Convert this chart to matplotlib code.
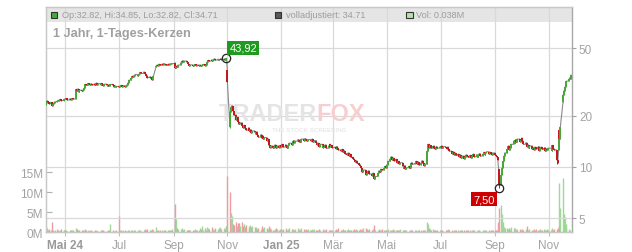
import numpy as np
import pandas as pd
import matplotlib
matplotlib.use("Agg")
import matplotlib.pyplot as plt
import matplotlib.dates as mdates
from matplotlib.patches import Rectangle

plt.rcParams['font.family'] = ['Liberation Sans', 'DejaVu Sans']

# ---------------- data (daily closes / volumes in M, per month) ----------------
c_2024_04 = [23.8, 24.5, 24.0, 23.6, 24.0, 23.0, 23.5, 23.9, 24.2, 24.6, 24.3, 24.8, 25.0, 24.6, 24.9, 25.1]
v_2024_04 = [1.7, 1.0, 0.6, 0.8, 0.5, 2.7, 0.7, 0.4, 0.6, 0.8, 0.5, 0.4, 0.7, 0.9, 0.5, 0.6]
c_2024_05 = [25.0, 25.3, 24.8, 25.2, 25.0, 24.9, 25.3, 25.1, 28.6, 28.0, 28.8, 27.6, 28.3, 27.9, 28.4, 29.0, 30.6, 30.2, 31.0, 30.6, 30.3, 30.9, 30.5]
v_2024_05 = [0.5, 0.6, 0.4, 0.7, 0.5, 0.4, 0.6, 0.5, 1.2, 0.8, 0.6, 0.5, 0.4, 0.6, 0.5, 0.7, 0.9, 0.6, 0.5, 0.4, 0.6, 0.5, 0.4]
c_2024_06 = [30.8, 30.2, 31.2, 30.5, 30.9, 30.4, 31.0, 30.6, 30.1, 30.7, 30.3, 29.8, 30.4, 30.0, 30.6, 30.2, 29.6, 30.0, 29.5, 29.8]
v_2024_06 = [0.4, 0.5, 0.6, 0.4, 0.3, 0.5, 0.4, 0.6, 0.5, 0.4, 0.3, 0.5, 0.4, 0.6, 2.0, 0.5, 0.4, 0.3, 0.5, 0.4]
c_2024_07 = [29.4, 29.9, 30.2, 29.7, 30.1, 29.6, 30.0, 30.4, 31.2, 32.4, 33.5, 34.2, 33.8, 34.5, 35.0, 34.3, 34.8, 35.4, 36.0, 35.5, 36.2, 35.6, 35.1]
v_2024_07 = [4.2, 0.6, 0.5, 0.4, 0.6, 0.5, 0.4, 0.3, 0.5, 0.7, 0.6, 0.5, 0.4, 0.6, 0.5, 0.4, 0.7, 0.5, 0.6, 0.4, 0.5, 0.6, 0.8]
c_2024_08 = [34.5, 33.6, 34.0, 33.2, 32.6, 33.4, 34.1, 39.2, 39.8, 39.5, 40.2, 39.7, 40.4, 39.9, 40.6, 40.1, 39.6, 40.3, 40.0, 40.5, 40.2, 40.6]
v_2024_08 = [0.6, 0.8, 0.5, 0.7, 0.9, 0.5, 0.6, 1.4, 0.6, 0.5, 0.4, 0.5, 0.6, 0.4, 0.5, 0.6, 0.4, 0.5, 0.7, 0.5, 0.6, 0.8]
c_2024_09 = [40.9, 38.0, 39.2, 38.6, 39.8, 41.0, 41.6, 42.2, 41.5, 42.0, 41.3, 40.6, 40.0, 39.4, 39.9, 39.2, 39.6, 40.1, 39.5, 39.8, 39.3]
v_2024_09 = [2.1, 7.0, 3.3, 1.2, 0.9, 0.8, 1.0, 0.7, 0.6, 0.8, 0.5, 0.7, 0.6, 0.5, 0.7, 0.6, 0.5, 0.8, 0.6, 0.7, 0.5]
c_2024_10 = [39.8, 39.2, 39.6, 40.1, 39.5, 40.0, 41.5, 42.4, 42.0, 42.6, 42.2, 42.8, 43.3, 42.6, 43.0, 42.5, 42.9, 43.4, 42.8, 43.2, 42.7, 43.1, 43.6]
v_2024_10 = [1.2, 0.8, 1.5, 0.7, 1.0, 0.6, 1.3, 1.1, 0.8, 0.7, 1.4, 0.9, 0.6, 1.2, 0.8, 1.0, 0.7, 1.3, 0.9, 1.1, 0.8, 1.5, 1.7]
c_2024_11 = [31.5, 21.0, 22.4, 22.9, 21.4, 20.2, 19.0, 19.6, 18.5, 17.8, 18.2, 17.4, 17.0, 17.6, 16.9, 16.5, 17.0, 16.2, 16.6, 15.9, 16.3]
v_2024_11 = [14.0, 10.0, 4.8, 4.1, 2.2, 1.8, 2.5, 1.6, 2.3, 2.4, 1.5, 2.6, 1.7, 2.0, 1.4, 1.9, 1.6, 1.2, 1.8, 1.3, 1.5]
c_2024_12 = [16.0, 15.6, 16.1, 15.4, 15.0, 15.5, 14.8, 15.2, 14.6, 14.9, 14.3, 14.6, 13.4, 13.0, 13.3, 12.9, 13.2, 13.5, 12.9, 13.3, 13.0, 13.4]
v_2024_12 = [1.3, 1.0, 1.4, 0.9, 1.2, 0.8, 1.5, 1.1, 0.9, 1.3, 1.0, 0.8, 1.6, 1.2, 0.9, 0.7, 0.5, 0.8, 1.0, 0.9, 0.7, 0.8]
c_2025_01 = [13.2, 13.6, 13.1, 13.5, 13.3, 12.9, 13.4, 13.8, 13.5, 14.0, 14.3, 13.9, 14.2, 14.5, 14.1, 14.4, 14.0, 14.6, 14.3, 14.7, 14.4, 14.2, 14.5]
v_2025_01 = [0.9, 0.7, 0.8, 1.0, 0.7, 0.6, 0.9, 1.1, 0.8, 0.7, 0.9, 0.6, 0.8, 1.0, 0.7, 0.9, 0.6, 1.1, 0.8, 0.7, 0.9, 0.6, 0.8]
c_2025_02 = [14.5, 14.2, 14.6, 14.0, 14.3, 13.9, 13.5, 13.8, 13.2, 13.6, 13.0, 13.4, 13.1, 13.5, 12.9, 13.3, 13.6, 13.2, 13.4, 13.0]
v_2025_02 = [0.7, 0.6, 0.8, 0.5, 0.9, 0.6, 0.7, 0.5, 0.8, 0.6, 0.7, 0.9, 0.5, 0.6, 0.8, 0.7, 0.5, 0.6, 0.7, 0.5]
c_2025_03 = [13.1, 12.8, 13.2, 12.9, 12.6, 12.4, 12.7, 12.2, 12.5, 12.0, 11.8, 12.1, 11.6, 11.9, 11.4, 11.2, 11.0, 10.7, 10.9, 10.5, 10.3]
v_2025_03 = [0.6, 0.8, 0.5, 0.7, 1.1, 0.6, 0.5, 0.8, 0.6, 0.7, 0.5, 0.9, 0.6, 0.7, 0.5, 0.6, 0.8, 0.7, 0.9, 0.6, 0.7]
c_2025_04 = [10.1, 9.8, 9.3, 9.6, 9.0, 9.4, 9.2, 9.5, 9.1, 8.9, 9.2, 8.7, 8.5, 8.8, 9.2, 9.5, 9.3, 9.7, 9.6, 9.9, 10.1, 9.9]
v_2025_04 = [0.8, 0.6, 0.9, 1.0, 1.2, 0.7, 0.8, 0.6, 0.9, 0.7, 0.8, 1.8, 0.9, 0.7, 0.6, 0.8, 0.7, 0.6, 0.8, 0.5, 0.7, 0.6]
c_2025_05 = [10.3, 10.8, 11.2, 11.5, 11.0, 11.3, 10.9, 11.1, 10.6, 10.8, 10.4, 10.6, 10.1, 9.8, 10.2, 9.7, 9.9, 10.1, 9.8, 10.3, 10.6, 10.4]
v_2025_05 = [0.6, 0.8, 0.7, 0.5, 0.6, 0.9, 0.5, 0.6, 0.7, 0.5, 0.6, 0.8, 0.5, 0.7, 0.6, 0.5, 0.7, 0.4, 0.6, 0.5, 0.7, 0.6]
c_2025_06 = [10.5, 10.8, 10.4, 10.7, 10.3, 10.6, 10.9, 10.5, 10.2, 10.4, 12.4, 13.6, 13.0, 13.4, 12.9, 13.3, 13.0, 12.7, 13.2, 12.9, 13.1]
v_2025_06 = [0.5, 0.6, 0.4, 0.7, 0.5, 0.6, 0.4, 0.5, 0.7, 0.6, 2.7, 2.0, 1.2, 0.9, 0.7, 0.8, 0.6, 0.5, 0.7, 0.6, 0.5]
c_2025_07 = [13.0, 13.3, 12.9, 13.2, 13.0, 12.8, 13.1, 12.7, 12.4, 12.0, 12.3, 11.8, 12.1, 11.7, 11.9, 11.5, 11.8, 11.3, 11.6, 11.2, 11.5, 11.8, 11.6]
v_2025_07 = [0.6, 0.5, 0.7, 0.4, 0.6, 0.5, 0.8, 0.6, 0.5, 0.7, 0.4, 0.6, 0.5, 0.7, 0.6, 0.4, 0.5, 0.6, 0.7, 0.5, 0.4, 0.6, 0.5]
c_2025_08 = [11.4, 11.7, 11.3, 11.6, 11.9, 11.5, 11.8, 11.4, 11.7, 12.0, 11.6, 11.9, 12.2, 11.8, 12.1, 12.3, 11.9, 12.2, 12.0, 11.8, 12.1]
v_2025_08 = [0.6, 0.5, 0.4, 0.6, 0.7, 0.5, 0.4, 0.6, 0.5, 0.7, 0.4, 0.5, 0.6, 0.4, 0.5, 0.7, 0.6, 0.4, 0.5, 0.6, 0.5]
c_2025_09 = [11.8, 11.6, 11.4, 11.0, 7.8, 9.0, 9.9, 10.8, 11.6, 12.1, 12.8, 13.3, 12.6, 13.0, 13.6, 14.2, 13.8, 14.5, 14.0, 14.6, 14.1, 14.4]
v_2025_09 = [0.5, 0.7, 0.6, 2.7, 6.0, 6.9, 4.6, 2.5, 1.4, 1.0, 1.2, 0.9, 1.1, 0.8, 1.3, 1.0, 0.8, 1.2, 0.7, 0.9, 0.8, 0.6]
c_2025_10 = [14.8, 14.2, 13.6, 13.9, 13.2, 13.5, 12.9, 13.3, 12.7, 13.0, 12.6, 13.1, 12.8, 13.2, 12.5, 12.9, 13.1, 12.7, 13.0, 12.4, 12.8, 12.6, 12.9]
v_2025_10 = [0.7, 0.9, 0.6, 0.8, 1.5, 0.7, 0.6, 0.9, 0.5, 0.7, 0.8, 0.6, 0.9, 0.7, 0.5, 0.8, 0.6, 0.7, 0.9, 0.5, 0.6, 0.8, 0.7]
c_2025_11 = [12.9, 12.5, 13.4, 12.8, 12.6, 11.0, 10.6, 16.4, 14.6, 17.2, 26.5, 28.0, 29.5, 31.0, 32.0, 33.0, 33.6, 34.71]
v_2025_11 = [0.6, 0.8, 1.0, 0.7, 0.9, 0.8, 1.1, 12.3, 1.7, 6.2, 13.5, 4.6, 3.8, 2.0, 1.2, 0.9, 0.5, 0.038]

month_keys = ["2024-04", "2024-05", "2024-06", "2024-07", "2024-08", "2024-09", "2024-10",
              "2024-11", "2024-12", "2025-01", "2025-02", "2025-03", "2025-04", "2025-05",
              "2025-06", "2025-07", "2025-08", "2025-09", "2025-10", "2025-11"]
month_data = [(c_2024_04, v_2024_04), (c_2024_05, v_2024_05), (c_2024_06, v_2024_06),
              (c_2024_07, v_2024_07), (c_2024_08, v_2024_08), (c_2024_09, v_2024_09),
              (c_2024_10, v_2024_10), (c_2024_11, v_2024_11), (c_2024_12, v_2024_12),
              (c_2025_01, v_2025_01), (c_2025_02, v_2025_02), (c_2025_03, v_2025_03),
              (c_2025_04, v_2025_04), (c_2025_05, v_2025_05), (c_2025_06, v_2025_06),
              (c_2025_07, v_2025_07), (c_2025_08, v_2025_08), (c_2025_09, v_2025_09),
              (c_2025_10, v_2025_10), (c_2025_11, v_2025_11)]
first_day = "2024-04-09"

# opening prices on gap days (otherwise open = previous close)
gap_open = {"2024-04-09": 23.3, "2024-08-12": 38.8, "2024-11-01": 37.0, "2024-11-04": 17.2,
            "2025-09-05": 9.7, "2025-11-12": 12.6, "2025-11-17": 24.0, "2025-11-26": 32.82}
high_override = {"2024-10-31": 43.92, "2025-11-26": 34.85}
low_override = {"2024-11-04": 17.0, "2025-09-05": 7.50, "2025-11-10": 10.4}

x_ticks = ["2024-05-01", "2024-07-01", "2024-09-01", "2024-11-01", "2025-01-01",
           "2025-03-01", "2025-05-01", "2025-07-01", "2025-09-01", "2025-11-01"]
x_labels = ["Mai 24", "Jul", "Sep", "Nov", "Jan 25", "Mär", "Mai", "Jul", "Sep", "Nov"]
price_ticks = [5, 10, 20, 50]
vol_ticks = [0, 5, 10, 15]
vol_labels = ["0M", "5M", "10M", "15M"]

# ---------------- assemble ----------------
dates, closes, vols = [], [], []
for key, (cl, vo) in zip(month_keys, month_data):
    start = pd.Timestamp(key + "-01")
    if key == "2024-04":
        start = pd.Timestamp(first_day)
    end = start + pd.offsets.MonthEnd(0)
    bd = pd.bdate_range(start, end)
    n = min(len(bd), len(cl), len(vo))
    dates += list(bd[:n]); closes += cl[:n]; vols += vo[:n]

dates = pd.DatetimeIndex(dates)
closes = np.array(closes, float)
vols = np.array(vols, float)
opens = np.r_[closes[0], closes[:-1]].copy()
keys = [d.strftime("%Y-%m-%d") for d in dates]
for i, k in enumerate(keys):
    if k in gap_open:
        opens[i] = gap_open[k]
highs = np.maximum(opens, closes)
lows = np.minimum(opens, closes)
for i, k in enumerate(keys):
    if k in high_override:
        highs[i] = high_override[k]
    if k in low_override:
        lows[i] = low_override[k]

x = mdates.date2num(dates)
up = closes >= opens
prev = np.r_[opens[0], closes[:-1]]
vup = closes >= prev

# ---------------- figure ----------------
W, H = 632, 253
fig = plt.figure(figsize=(W / 100, H / 100), dpi=100)
L, R, T, B = 45.7, 572.0, 8.3, 233.3
ax_v = fig.add_axes([L / W, 1 - B / H, (R - L) / W, (B - T) / H])
ax_p = ax_v.twinx()

grid_c = "#d9d9d9"
lab_c = "#a3a3a3"

# header band
ax_v.add_patch(Rectangle((0, (B - 22.7) / (B - T)), 1, 1 - (B - 22.7) / (B - T),
                         transform=ax_v.transAxes, facecolor="#e5e5e5", edgecolor="none", zorder=0))

# volume
vcol = np.where(vup, "#9dd895", "#f09aa3")
ax_v.vlines(x, 0, vols, colors=vcol, linewidth=1.0, zorder=2)
ax_v.set_ylim(0, (B - T) / 4.0)
ax_v.set_yticks(vol_ticks)
ax_v.set_yticklabels(vol_labels)
ax_v.tick_params(axis="y", direction="in", length=4, color="#b0b0b0", labelcolor=lab_c,
                 labelsize=8.5, pad=2)

xl = mdates.date2num(pd.Timestamp("2024-04-08 18:00"))
xr = mdates.date2num(pd.Timestamp("2025-11-27 06:00"))
ax_v.set_xlim(xl, xr)
xt = mdates.date2num(pd.DatetimeIndex(x_ticks))
ax_v.set_xticks(xt)
ax_v.set_xticklabels(x_labels)
ax_v.tick_params(axis="x", direction="out", length=3, color="#c0c0c0", labelcolor=lab_c,
                 labelsize=8.5, pad=2)
for lbl in ax_v.get_xticklabels():
    if lbl.get_text() in ("Mai 24", "Jan 25"):
        lbl.set_fontweight("bold")
        lbl.set_color("#999999")
ax_v.grid(axis="x", color=grid_c, linewidth=0.9, zorder=1)
ax_v.set_axisbelow(True)

# price
ax_p.set_yscale("log")
ax_p.set_ylim(10 * 10 ** ((168 - B) / 170), 10 * 10 ** ((168 - T) / 170))
ax_p.set_yticks(price_ticks)
ax_p.set_yticklabels([str(t) for t in price_ticks])
ax_p.yaxis.set_minor_locator(matplotlib.ticker.NullLocator())
ax_p.tick_params(axis="y", direction="out", length=3, color="#a0a0a0", labelcolor=lab_c,
                 labelsize=8.5, pad=2)
for t in price_ticks:
    ax_p.axhline(t, color=grid_c, linewidth=0.9, zorder=0)

# watermark
ax_p.text(0.515, 0.53, "TRADER", transform=ax_p.transAxes, ha="right", va="center",
          fontsize=17, fontweight="bold", color="#e4e4e4", zorder=1)
ax_p.text(0.515, 0.53, "FOX", transform=ax_p.transAxes, ha="left", va="center",
          fontsize=17, fontweight="bold", color="#f6d0d0", zorder=1)
ax_p.text(0.50, 0.455, "THE STOCK SCREENING", transform=ax_p.transAxes, ha="center", va="center",
          fontsize=4.5, fontweight="bold", color="#e8e8e8", zorder=1)

# gap path + candles
xs = np.repeat(x, 2)
ys = np.column_stack([opens, closes]).ravel()
ax_p.plot(xs, ys, color="#8a8a8a", linewidth=0.8, zorder=3)
ccol = np.where(up, "#45a935", "#c3161c")
ax_p.vlines(x, lows, highs, colors=ccol, linewidth=0.7, zorder=4)
ax_p.vlines(x, np.minimum(opens, closes), np.maximum(opens, closes), colors=ccol,
            linewidth=1.4, zorder=5)

# high / low markers
ih = int(np.argmax(highs))
il = int(np.argmin(lows))
ax_p.plot([x[ih]], [highs[ih]], marker="o", ms=6, mfc="none", mec="#222222", mew=0.9, zorder=6)
ax_p.plot([x[il]], [lows[il]], marker="o", ms=6, mfc="none", mec="#222222", mew=0.9, zorder=6)
ax_p.annotate(f"{highs[ih]:.2f}".replace(".", ","), (x[ih], highs[ih]), xytext=(3, 10),
              textcoords="offset pixels", ha="left", va="center", color="white", fontsize=8,
              bbox=dict(boxstyle="square,pad=0.2", fc="#1e9a1e", ec="none"), zorder=7)
ax_p.annotate(f"{lows[il]:.2f}".replace(".", ","), (x[il], lows[il]), xytext=(-4, -11),
              textcoords="offset pixels", ha="right", va="center", color="white", fontsize=8,
              bbox=dict(boxstyle="square,pad=0.2", fc="#cc0000", ec="none"), zorder=7)

# spines
for ax in (ax_v, ax_p):
    for s in ax.spines.values():
        s.set_color("#c8c8c8")
        s.set_linewidth(0.9)
ax_p.spines["right"].set_color("#a8a8a8")
ax_v.spines["bottom"].set_color("#b0b0b0")

# header texts
def fx(px):
    return px / W

def fy(py):
    return 1 - py / H

def square(px, py, fc, ec):
    fig.patches.append(Rectangle((fx(px), fy(py + 6.5)), 6.5 / W, 6.5 / H, transform=fig.transFigure,
                                 facecolor=fc, edgecolor=ec, linewidth=0.8, zorder=10))

hdr_c = "#9c9c9c"
square(50.5, 12.5, "#3fae35", "#333333")
fig.text(fx(61.5), fy(15.8), f"Op:{opens[-1]:.2f}, Hi:{highs[-1]:.2f}, Lo:{lows[-1]:.2f}, Cl:{closes[-1]:.2f}",
         ha="left", va="center", fontsize=6.6, color=hdr_c)
square(274.5, 12.5, "#5a5a5a", "#333333")
fig.text(fx(285.5), fy(15.8), f"volladjustiert: {closes[-1]:.2f}", ha="left", va="center",
         fontsize=6.6, color=hdr_c)
square(406.0, 12.5, "#b4e2ac", "#333333")
fig.text(fx(416.5), fy(15.8), f"Vol: {vols[-1]:.3f}M", ha="left", va="center", fontsize=6.6, color=hdr_c)
fig.text(fx(53), fy(33.5), "1 Jahr, 1-Tages-Kerzen", ha="left", va="center", fontsize=9.2,
         fontweight="bold", color="#a0a0a0")

fig.savefig("out.png", dpi=100)
